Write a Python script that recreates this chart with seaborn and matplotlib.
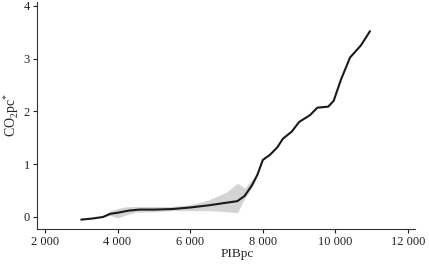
import matplotlib
matplotlib.use("Agg")
import matplotlib.pyplot as plt
import matplotlib.ticker as mticker
import seaborn as sns
import pandas as pd

# fitted curve
pib = [3000, 3300, 3600, 3800, 4000, 4300, 4600, 5000, 5500, 6000, 6500, 7000,
       7300, 7500, 7700, 7850, 8000, 8200, 8400, 8550, 8800, 9000, 9300, 9500,
       9800, 9950, 10150, 10400, 10700, 10950]
co2 = [-0.05, -0.03, 0.00, 0.06, 0.08, 0.12, 0.14, 0.14, 0.15, 0.18, 0.22, 0.27,
       0.30, 0.40, 0.60, 0.80, 1.08, 1.18, 1.32, 1.48, 1.62, 1.80, 1.93, 2.07,
       2.09, 2.20, 2.60, 3.02, 3.25, 3.52]

# confidence band
band_x = [3500, 3800, 4000, 4200, 4500, 5000, 5500, 6000, 6500, 7000, 7300,
          7500, 7700, 7850, 8000]
band_hi = [-0.02, 0.12, 0.16, 0.19, 0.20, 0.20, 0.20, 0.23, 0.32, 0.47, 0.64,
           0.55, 0.70, 0.82, 1.08]
band_lo = [-0.02, 0.03, -0.02, 0.03, 0.09, 0.10, 0.12, 0.12, 0.12, 0.10, 0.08,
           0.35, 0.55, 0.78, 1.08]

xticks = [2000, 4000, 6000, 8000, 10000, 12000]
yticks = [0, 1, 2, 3, 4]

sns.set_theme(style="ticks")
plt.rcParams["font.family"] = ["Liberation Serif", "DejaVu Serif"]

df = pd.DataFrame({"PIBpc": pib, "CO2pc": co2})

fig = plt.figure(figsize=(4.29, 2.65), dpi=100)
ax = fig.add_axes([0.086, 0.136, 0.881, 0.858])

ax.fill_between(band_x, band_lo, band_hi, color="#d4d4d4", linewidth=0)
sns.lineplot(data=df, x="PIBpc", y="CO2pc", ax=ax, color="#1a1a1a", linewidth=1.5)

ax.set_xlim(1780, 12185)
ax.set_ylim(-0.227, 4.08)
ax.set_xticks(xticks)
ax.set_yticks(yticks)
ax.xaxis.set_major_formatter(mticker.FuncFormatter(lambda v, p: f"{int(v):,}".replace(",", " ")))

ax.set_xlabel("PIBpc", fontsize=9.5, labelpad=2)
ax.xaxis.set_label_coords(0.53, -0.085)
ax.set_ylabel("CO$_\\mathregular{2}$pc$^\\mathregular{*}$", fontsize=10)
ax.yaxis.set_label_coords(-0.042, 0.5)
ax.tick_params(axis="both", labelsize=9, length=3, width=0.8, pad=2, colors="#222222")

for s in ["top", "right"]:
    ax.spines[s].set_visible(False)
for s in ["left", "bottom"]:
    ax.spines[s].set_linewidth(0.8)
    ax.spines[s].set_color("#333333")

fig.savefig("out.png", dpi=100)
